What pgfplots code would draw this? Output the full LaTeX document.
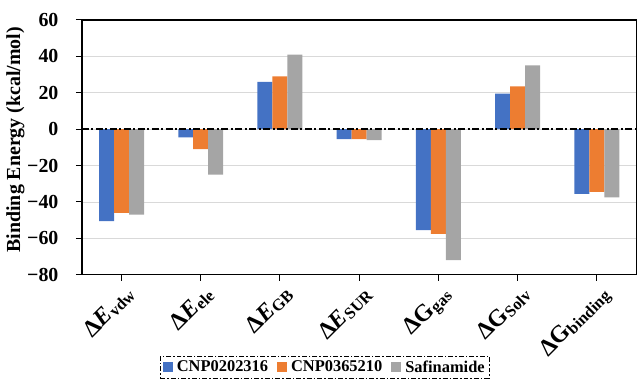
\documentclass[border=0pt]{standalone}
\usepackage{pgfplots}
\pgfplotsset{compat=1.18}
\usepackage{fontspec}
\setmainfont{Liberation Serif}
\definecolor{cblue}{HTML}{4472C4}
\definecolor{corange}{HTML}{ED7D31}
\definecolor{cgray}{HTML}{A5A5A5}
\newcommand{\lab}[2]{{\fontsize{24}{24}\selectfont\bfseries #1}{\fontsize{16.5}{16.5}\selectfont\bfseries\raisebox{-2pt}{#2}}}
\begin{document}
\begin{tikzpicture}
\begin{axis}[
  name=main,
  scale only axis, width=555bp, height=255bp,
  ymin=-80, ymax=60, xmin=-0.5, xmax=6.5,
  ybar=0pt, bar width=15bp,
  ytick={-80,-60,-40,-20,0,20,40,60},
  yticklabels={−80,−60,−40,−20,0,20,40,60},
  xtick={0,1,2,3,4,5,6},
  xticklabels={\lab{Δ\textit{E}}{vdw},\lab{Δ\textit{E}}{ele},\lab{Δ\textit{E}}{GB},\lab{Δ\textit{E}}{SUR},\lab{ΔG}{gas},\lab{ΔG}{Solv},\lab{ΔG}{binding}},
  xticklabel style={rotate=45, anchor=north east, inner sep=1pt, yshift=-3bp},
  yticklabel style={font=\bfseries\fontsize{20}{20}\selectfont, anchor=east, xshift=-14bp},
  ylabel={\bfseries Binding Energy (kcal/mol)},
  ylabel style={font=\fontsize{20}{20}\selectfont,
    at={([xshift=-76bp]axis description cs:0,0.53)},
    anchor=north, inner sep=0pt},
  ymajorgrids, major grid style={draw=black!15, line width=0.8pt},
  axis line style={black, line width=1.2pt},
  tick align=outside, major tick length=6bp,
  tick style={black, line width=1pt},
  xtick pos=bottom, ytick pos=left,
  legend columns=3,
  legend style={at={(0.438,-0.318)}, anchor=north, draw=black, line width=0.8pt,
    dash pattern=on 5pt off 2pt on 1.5pt off 2pt,
    font=\bfseries\fontsize{16.5}{16.5}\selectfont, inner sep=2.5pt,
    /tikz/every odd column/.append style={column sep=2bp},
    /tikz/every even column/.append style={column sep=7bp}},
  legend image code/.code={\fill[#1, solid] (0bp,-5bp) rectangle (10bp,5bp);},
]
\addplot[fill=cblue, draw=none] coordinates {(0,-50.5) (1,-4.5) (2,26) (3,-5.5) (4,-55.5) (5,19.5) (6,-35.5)};
\addplot[fill=corange, draw=none] coordinates {(0,-46) (1,-11) (2,29) (3,-5.5) (4,-57.5) (5,23.5) (6,-34.5)};
\addplot[fill=cgray, draw=none] coordinates {(0,-47) (1,-25) (2,41) (3,-6) (4,-72) (5,35) (6,-37.5)};
\legend{CNP0202316, CNP0365210, Safinamide}
\draw[black, line width=1.4pt, dash pattern=on 7pt off 2.5pt on 2pt off 2.5pt] (axis cs:-0.5,0) -- (axis cs:6.5,0);
\end{axis}
\path ([xshift=-82bp, yshift=20bp]main.north west);
\end{tikzpicture}
\end{document}
